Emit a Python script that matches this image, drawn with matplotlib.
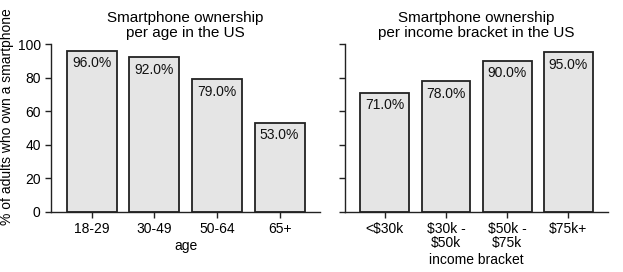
import matplotlib
matplotlib.use('Agg')
import matplotlib.pyplot as plt

plt.rcParams['font.family'] = ['Liberation Sans', 'DejaVu Sans']

age_groups = ['18-29', '30-49', '50-64', '65+']
age_values = [96.0, 92.0, 79.0, 53.0]

income_groups = ['<$30k', '$30k -\n$50k', '$50k -\n$75k', '$75k+']
income_values = [71.0, 78.0, 90.0, 95.0]

EDGE = '#222222'
FACE = '#e5e5e5'

fig = plt.figure(figsize=(6.23, 2.72), dpi=100)
ax1 = fig.add_axes([0.082, 0.221, 0.432, 0.617])
ax2 = fig.add_axes([0.554, 0.221, 0.422, 0.617])


def draw(ax, cats, vals, title, xlabel):
    xs = range(len(cats))
    ax.bar(xs, vals, width=0.8, color=FACE, edgecolor=EDGE, linewidth=1.3)
    for x, v in zip(xs, vals):
        ax.annotate(f'{v:.1f}%', (x, v), xytext=(0, -4), textcoords='offset points',
                    ha='center', va='top', fontsize=10, color='#111111')
    ax.set_xticks(list(xs))
    ax.set_xticklabels(cats, fontsize=10, linespacing=1.0)
    ax.set_xlim(-0.65, 3.65)
    ax.set_ylim(0, 100)
    ax.set_yticks([0, 20, 40, 60, 80, 100])
    ax.set_title(title, fontsize=11, linespacing=1.1, pad=5)
    ax.set_xlabel(xlabel, fontsize=10, labelpad=2)
    for s in ['top', 'right']:
        ax.spines[s].set_visible(False)
    for s in ['left', 'bottom']:
        ax.spines[s].set_color(EDGE)
        ax.spines[s].set_linewidth(1.0)
    ax.tick_params(colors=EDGE, labelcolor='black', labelsize=10, length=4, width=1.0)


draw(ax1, age_groups, age_values, 'Smartphone ownership\nper age in the US', 'age')
draw(ax2, income_groups, income_values, 'Smartphone ownership\nper income bracket in the US', 'income bracket')
ax1.set_ylabel('% of adults who own a smartphone', fontsize=10)
ax1.yaxis.set_label_coords(-0.137, 0.565)
ax2.tick_params(labelleft=False)

fig.savefig('out.png', dpi=100)
